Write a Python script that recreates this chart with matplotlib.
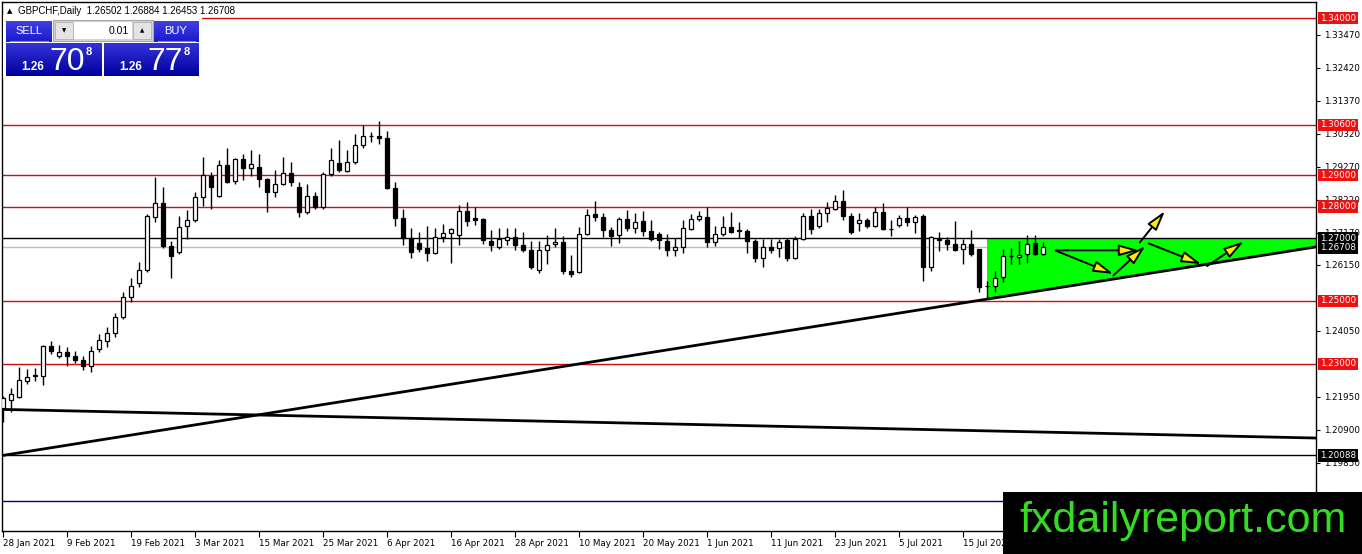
#!/usr/bin/env python3
# GBPCHF daily chart, MT4 style, with triangle + projected arrows
import numpy as np
import matplotlib
matplotlib.use('Agg')
import matplotlib.pyplot as plt
from matplotlib.patches import Rectangle, Polygon

# ---- data ----
opens = [1.2161, 1.2186, 1.2193, 1.2246, 1.2261, 1.2262, 1.2357, 1.2326, 1.2338, 1.2326,
         1.2311, 1.2294, 1.2347, 1.2372, 1.2398, 1.2448, 1.2512, 1.2558, 1.2598, 1.2766,
         1.2813, 1.2676, 1.2655, 1.2737, 1.2758, 1.2832, 1.2898, 1.2834, 1.2934, 1.2881,
         1.2950, 1.2924, 1.2927, 1.2889, 1.2848, 1.2873, 1.2908, 1.2864, 1.2784, 1.2835,
         1.2800, 1.2905, 1.2940, 1.2913, 1.2943, 1.2996, 1.3024, 1.3025, 1.3019, 1.2860,
         1.2765, 1.2699, 1.2684, 1.2668, 1.2653, 1.2704, 1.2716, 1.2709, 1.2787, 1.2763,
         1.2762, 1.2692, 1.2671, 1.2695, 1.2702, 1.2677, 1.2663, 1.2600, 1.2663, 1.2681,
         1.2688, 1.2596, 1.2592, 1.2713, 1.2775, 1.2766, 1.2727, 1.2709, 1.2762, 1.2732,
         1.2755, 1.2724, 1.2714, 1.2692, 1.2661, 1.2672, 1.2729, 1.2761, 1.2767, 1.2687,
         1.2714, 1.2735, 1.2727, 1.2724, 1.2690, 1.2637, 1.2672, 1.2669, 1.2693, 1.2636,
         1.2697, 1.2771, 1.2740, 1.2780, 1.2793, 1.2817, 1.2771, 1.2748, 1.2758, 1.2737,
         1.2784, 1.2729, 1.2741, 1.2763, 1.2750, 1.2769, 1.2609, 1.2695, 1.2695, 1.2682,
         1.2666, 1.2682, 1.2666, 1.2548, 1.2546, 1.2577, 1.2642, 1.2640, 1.2648, 1.2685,
         1.26502]
highs = [1.2198, 1.2224, 1.2291, 1.2285, 1.2288, 1.2361, 1.2372, 1.2361, 1.2354, 1.2342,
         1.2326, 1.2357, 1.2396, 1.2417, 1.2463, 1.2528, 1.2573, 1.2625, 1.2776, 1.2893,
         1.2861, 1.2692, 1.2769, 1.2789, 1.2845, 1.2958, 1.2911, 1.2947, 1.2987, 1.2955,
         1.2969, 1.2979, 1.2966, 1.2891, 1.2915, 1.2957, 1.2943, 1.2879, 1.2873, 1.2848,
         1.2911, 1.2985, 1.3013, 1.2979, 1.3031, 1.3059, 1.3038, 1.3072, 1.3042, 1.2878,
         1.2792, 1.2731, 1.2718, 1.2739, 1.2732, 1.2745, 1.2732, 1.2806, 1.2815, 1.2798,
         1.2765, 1.2727, 1.2732, 1.2732, 1.2732, 1.2719, 1.2690, 1.2690, 1.2711, 1.2732,
         1.2706, 1.2647, 1.2736, 1.2794, 1.2819, 1.2780, 1.2736, 1.2766, 1.2790, 1.2780,
         1.2785, 1.2757, 1.2718, 1.2714, 1.2700, 1.2759, 1.2778, 1.2785, 1.2799, 1.2737,
         1.2769, 1.2782, 1.2750, 1.2729, 1.2697, 1.2697, 1.2697, 1.2697, 1.2700, 1.2706,
         1.2780, 1.2793, 1.2793, 1.2814, 1.2838, 1.2854, 1.2780, 1.2780, 1.2763, 1.2798,
         1.2810, 1.2756, 1.2774, 1.2798, 1.2774, 1.2777, 1.2706, 1.2718, 1.2703, 1.2753,
         1.2697, 1.2726, 1.2666, 1.2564, 1.2595, 1.2666, 1.2669, 1.2690, 1.2711, 1.2711,
         1.26884]
lows = [1.2115, 1.2148, 1.2190, 1.2235, 1.2245, 1.2233, 1.2330, 1.2319, 1.2294, 1.2304,
        1.2279, 1.2275, 1.2338, 1.2353, 1.2385, 1.2442, 1.2497, 1.2543, 1.2592, 1.2752,
        1.2668, 1.2573, 1.2649, 1.2697, 1.2752, 1.2803, 1.2794, 1.2830, 1.2876, 1.2871,
        1.2886, 1.2897, 1.2862, 1.2783, 1.2831, 1.2869, 1.2866, 1.2767, 1.2776, 1.2793,
        1.2793, 1.2896, 1.2911, 1.2910, 1.2936, 1.2987, 1.3006, 1.3000, 1.2855, 1.2739,
        1.2678, 1.2636, 1.2657, 1.2626, 1.2650, 1.2688, 1.2621, 1.2677, 1.2737, 1.2743,
        1.2681, 1.2658, 1.2666, 1.2677, 1.2663, 1.2656, 1.2603, 1.2589, 1.2616, 1.2671,
        1.2586, 1.2575, 1.2590, 1.2709, 1.2753, 1.2702, 1.2674, 1.2684, 1.2724, 1.2716,
        1.2706, 1.2690, 1.2665, 1.2644, 1.2642, 1.2651, 1.2727, 1.2753, 1.2672, 1.2674,
        1.2708, 1.2716, 1.2700, 1.2651, 1.2623, 1.2608, 1.2651, 1.2640, 1.2626, 1.2634,
        1.2695, 1.2714, 1.2732, 1.2750, 1.2790, 1.2757, 1.2714, 1.2722, 1.2732, 1.2735,
        1.2727, 1.2708, 1.2735, 1.2737, 1.2716, 1.2564, 1.2595, 1.2658, 1.2663, 1.2660,
        1.2616, 1.2642, 1.2527, 1.2506, 1.2527, 1.2561, 1.2616, 1.2619, 1.2622, 1.2645,
        1.26453]
closes = [1.2190, 1.2203, 1.2247, 1.2259, 1.2263, 1.2357, 1.2340, 1.2338, 1.2326, 1.2313,
          1.2294, 1.2340, 1.2375, 1.2399, 1.2450, 1.2514, 1.2549, 1.2598, 1.2769, 1.2813,
          1.2676, 1.2644, 1.2736, 1.2758, 1.2832, 1.2900, 1.2861, 1.2934, 1.2878, 1.2950,
          1.2924, 1.2936, 1.2889, 1.2848, 1.2873, 1.2908, 1.2879, 1.2783, 1.2835, 1.2800,
          1.2903, 1.2948, 1.2917, 1.2943, 1.2996, 1.3024, 1.3025, 1.3017, 1.2860, 1.2765,
          1.2700, 1.2657, 1.2665, 1.2654, 1.2704, 1.2716, 1.2730, 1.2787, 1.2755, 1.2757,
          1.2694, 1.2677, 1.2696, 1.2702, 1.2677, 1.2662, 1.2607, 1.2663, 1.2679, 1.2688,
          1.2594, 1.2586, 1.2713, 1.2772, 1.2766, 1.2726, 1.2706, 1.2762, 1.2732, 1.2751,
          1.2722, 1.2697, 1.2695, 1.2661, 1.2672, 1.2732, 1.2761, 1.2771, 1.2687, 1.2714,
          1.2735, 1.2718, 1.2722, 1.2690, 1.2637, 1.2672, 1.2661, 1.2689, 1.2637, 1.2697,
          1.2771, 1.2729, 1.2780, 1.2796, 1.2817, 1.2769, 1.2718, 1.2759, 1.2737, 1.2784,
          1.2729, 1.2730, 1.2763, 1.2750, 1.2766, 1.2609, 1.2703, 1.2696, 1.2681, 1.2663,
          1.2682, 1.2648, 1.2543, 1.2549, 1.2574, 1.2643, 1.2643, 1.2647, 1.2682, 1.2648,
          1.26708]

date_ticks = [0, 8, 16, 24, 32, 40, 48, 56, 64, 72, 80, 88, 96, 104, 112, 120]
date_labels = ['28 Jan 2021', '9 Feb 2021', '19 Feb 2021', '3 Mar 2021', '15 Mar 2021',
               '25 Mar 2021', '6 Apr 2021', '16 Apr 2021', '28 Apr 2021', '10 May 2021',
               '20 May 2021', '1 Jun 2021', '11 Jun 2021', '23 Jun 2021', '5 Jul 2021',
               '15 Jul 2021']
price_ticks = [1.33470, 1.32420, 1.31370, 1.30320, 1.29270, 1.28220, 1.27170, 1.26150,
               1.24050, 1.21950, 1.20900, 1.19850]

red_levels = [1.34000, 1.30600, 1.29000, 1.28000, 1.25000, 1.23000]
black_level = 1.27000
bid = 1.26708
low_level = 1.20088
blue_level = 1.18638

# trend lines (bar index, price)
rise_x = [0, 164.125]
rise_y = [1.20088, 1.2672]
fall_x = [0, 164.125]
fall_y = [1.2155, 1.2064]
tri_x = [123, 164.125, 164.125, 123]
tri_y = [1.2700, 1.2700, 1.2672, 1.2506]

# projected path arrows: start -> end
arr_x0 = [131.6, 131.6, 138.8, 142.1, 143.2, 150.5]
arr_y0 = [1.2661, 1.2660, 1.2581, 1.2686, 1.2683, 1.2611]
arr_x1 = [142.0, 138.8, 142.8, 145.25, 149.8, 155.1]
arr_y1 = [1.2661, 1.2586, 1.2675, 1.2786, 1.2617, 1.2689]

W, H = 1362, 554
fig = plt.figure(figsize=(W / 100, H / 100), dpi=100)
ax = fig.add_axes([2 / W, 23 / H, 1314 / W, 529 / H])
ax.set_xlim(-0.125, 164.125)
ax.set_ylim(1.17683, 1.34509)

for lv in red_levels:
    ax.axhline(lv, color='#d01010', lw=1, zorder=1)
ax.axhline(black_level, color='black', lw=1, zorder=2)
ax.axhline(bid, color='#bdbdbd', lw=1, zorder=1)
ax.axhline(low_level, color='black', lw=1, zorder=1)
ax.axhline(blue_level, color='#000080', lw=1, zorder=1)

ax.add_patch(Polygon(list(zip(tri_x, tri_y)), closed=True, fc='#00ff00', ec='none', zorder=1.5))
ax.plot(rise_x, rise_y, color='black', lw=2, zorder=2)
ax.plot(fall_x, fall_y, color='black', lw=2, zorder=2)

# candles
x = np.arange(len(opens))
o = np.array(opens)
c = np.array(closes)
ax.vlines(x, lows, highs, color='black', lw=1, zorder=3)
up = c >= o
body = np.maximum(np.abs(c - o), 0.00004)
ax.bar(x[up], body[up], bottom=o[up], width=0.62, color='white', edgecolor='black', lw=0.9, zorder=4)
ax.bar(x[~up], body[~up], bottom=c[~up], width=0.62, color='black', edgecolor='black', lw=0.9, zorder=4)

for x0, y0, x1, y1 in zip(arr_x0, arr_y0, arr_x1, arr_y1):
    ax.annotate('', xy=(x1, y1), xytext=(x0, y0),
                arrowprops=dict(arrowstyle='-|>,head_length=0.6,head_width=0.17',
                                mutation_scale=20, fc='#ffee00', ec='black', lw=1.4,
                                shrinkA=0, shrinkB=0),
                zorder=6)

# axes styling
for s in ax.spines.values():
    s.set_linewidth(1)
ax.yaxis.tick_right()
ax.set_yticks(price_ticks)
ax.set_yticklabels(['%.5f' % p for p in price_ticks])
ax.set_xticks(date_ticks)
ax.set_xticklabels(date_labels, ha='left')
ax.tick_params(axis='y', direction='out', length=3, pad=3, labelsize=6.3)
ax.tick_params(axis='x', direction='out', length=4, pad=2, labelsize=6.3)


def level_box(price, fc):
    ax.annotate('%.5f' % price, xy=(1.0, price), xycoords=('axes fraction', 'data'),
                xytext=(3, 0), textcoords='offset points', ha='left', va='center',
                fontsize=6.3, color='white', annotation_clip=False, zorder=10,
                bbox=dict(boxstyle='square,pad=0.2', fc=fc, ec='none'))


for lv in red_levels:
    level_box(lv, '#ee1111')
level_box(black_level, 'black')
level_box(bid, 'black')
level_box(low_level, 'black')

# ---- overlay in pixel coordinates: header, trade panel, watermark ----
ov = fig.add_axes([0, 0, 1, 1], zorder=20)
ov.set_xlim(0, W)
ov.set_ylim(H, 0)
ov.axis('off')
ov.patch.set_alpha(0)

ov.add_patch(Rectangle((3, 15), 199, 63, fc='white', ec='none'))
ov.text(10, 11, '\u25b2', fontsize=5, va='center', ha='center')
ov.text(18, 11, 'GBPCHF,Daily  1.26502 1.26884 1.26453 1.26708', fontsize=7,
        family='Liberation Sans', va='center')


def grad(x0, x1, y0, y1, top, bottom):
    t = np.linspace(0, 1, 40)[:, None]
    col = (1 - t) * np.array(top) + t * np.array(bottom)
    img = np.repeat(col[:, None, :], 2, axis=1)
    ov.imshow(img, extent=(x0, x1, y1, y0), aspect='auto', interpolation='bilinear', zorder=1)


grad(6, 52, 21, 42, (0.25, 0.25, 0.9), (0.1, 0.1, 0.8))
grad(154, 199, 21, 42, (0.25, 0.25, 0.9), (0.1, 0.1, 0.8))
grad(6, 102, 43, 76, (0.2, 0.2, 0.85), (0.0, 0.0, 0.62))
grad(104, 199, 43, 76, (0.2, 0.2, 0.85), (0.0, 0.0, 0.62))
ov.plot([10, 48], [41, 41], color='#8080e0', lw=0.8, zorder=2)
ov.plot([158, 195], [41, 41], color='#8080e0', lw=0.8, zorder=2)
ov.text(29, 31, 'SELL', color='white', fontsize=8, ha='center', va='center', family='Liberation Sans')
ov.text(176, 31, 'BUY', color='white', fontsize=8, ha='center', va='center', family='Liberation Sans')

ov.add_patch(Rectangle((53, 20), 100, 21, fc='#d4d4d4', ec='#a8a8a8', lw=0.8, zorder=1))
ov.add_patch(Rectangle((55, 22), 18, 17, fc='#e4e4e4', ec='#b0b0b0', lw=0.6, zorder=2))
ov.add_patch(Rectangle((74, 22), 58, 17, fc='white', ec='none', zorder=2))
ov.add_patch(Rectangle((133, 22), 18, 17, fc='#e4e4e4', ec='#b0b0b0', lw=0.6, zorder=2))
ov.text(64, 31, '\u25bc', fontsize=4, ha='center', va='center', zorder=3)
ov.text(142, 31, '\u25b2', fontsize=4, ha='center', va='center', zorder=3)
ov.text(129, 30.5, '0.01', fontsize=7.5, ha='right', va='center', family='Liberation Sans', zorder=3)

for x0, big, small in [(21, '70', '8'), (119, '77', '8')]:
    ov.text(x0, 70, '1.26', color='white', fontsize=8.5, fontweight='bold',
            family='Liberation Sans', va='baseline', zorder=3)
    ov.text(x0 + 28, 70, big, color='white', fontsize=23, family='Liberation Sans',
            va='baseline', zorder=3)
    ov.text(x0 + 65, 55, small, color='white', fontsize=8, fontweight='bold',
            family='Liberation Sans', va='baseline', zorder=3)

ov.add_patch(Rectangle((1003, 492), 359, 62, fc='black', ec='none', zorder=5))
ov.text(1183, 521, 'fxdailyreport.com', color='#33dd22', fontsize=31,
        family='Liberation Sans', ha='center', va='center', zorder=6)

fig.savefig('out.png', dpi=100)
